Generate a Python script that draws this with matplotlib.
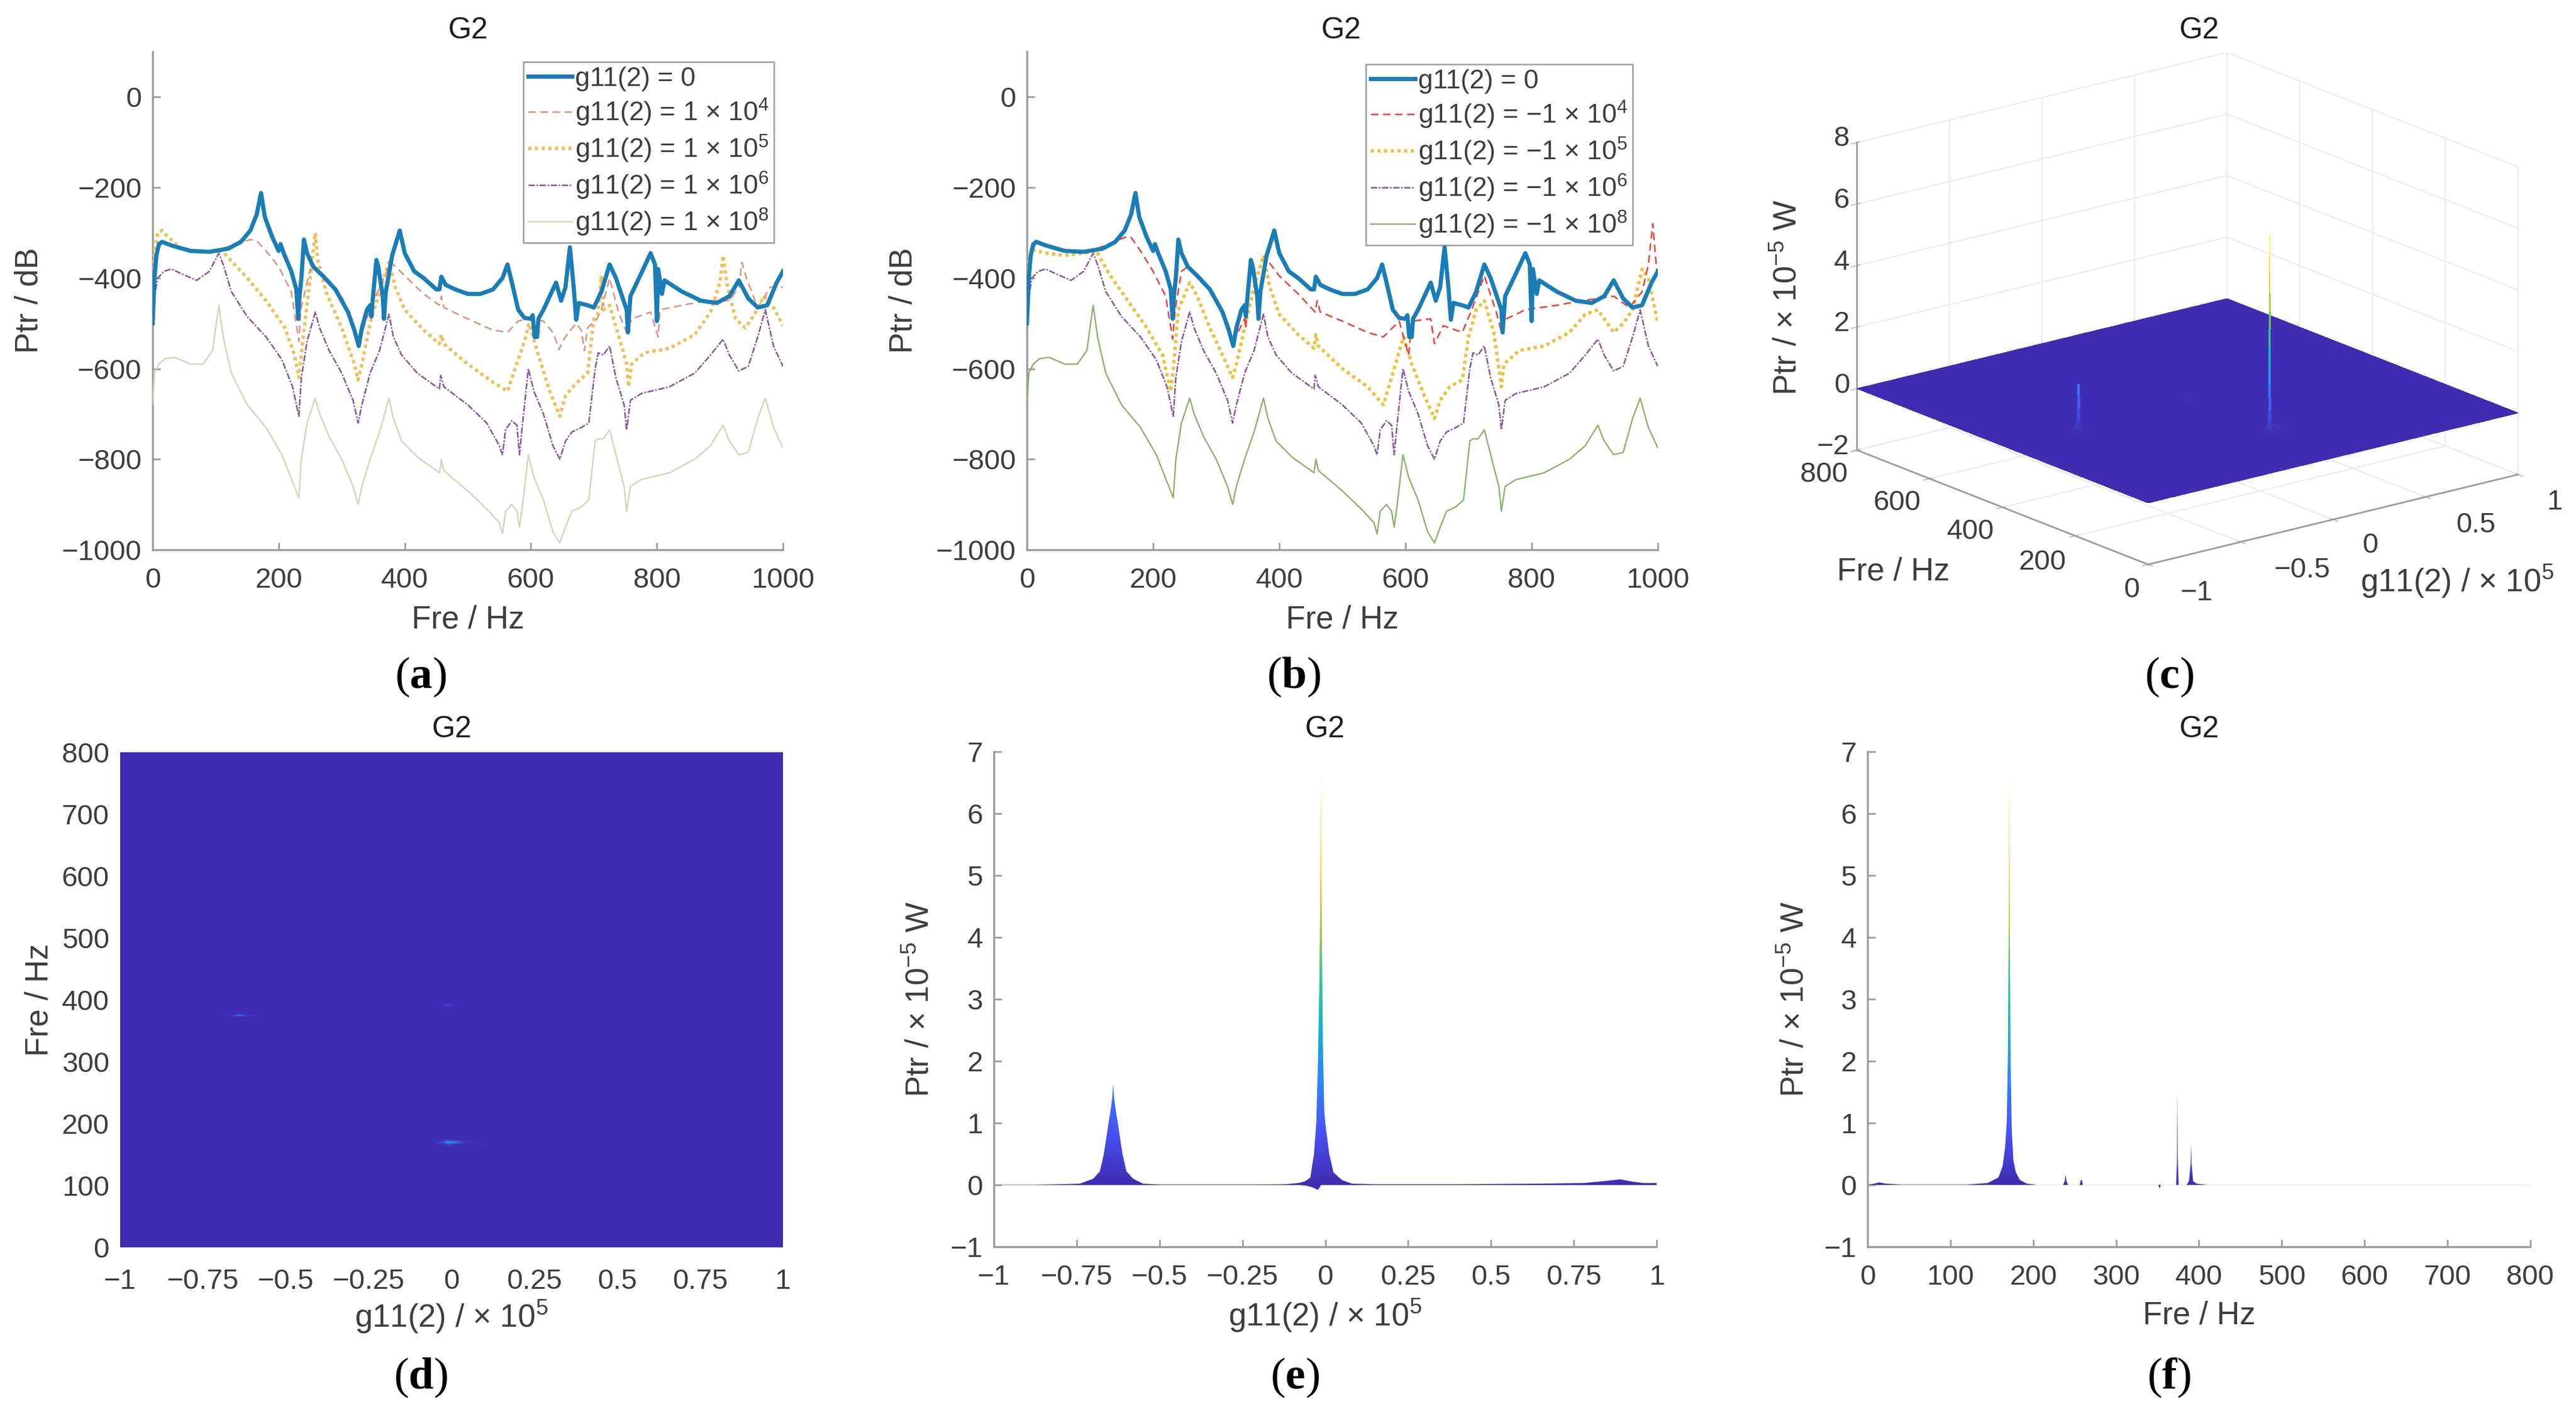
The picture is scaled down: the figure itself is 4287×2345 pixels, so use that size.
import numpy as np
import matplotlib
matplotlib.use("Agg")
import matplotlib.pyplot as plt
from matplotlib.colors import LinearSegmentedColormap
from matplotlib.patches import Polygon
from mpl_toolkits.mplot3d.art3d import Line3DCollection

W, H = 4287, 2345

plt.rcParams['font.family'] = ['Liberation Sans', 'DejaVu Sans']
plt.rcParams['mathtext.fontset'] = 'custom'
plt.rcParams['mathtext.default'] = 'regular'
plt.rcParams['mathtext.bf'] = 'Liberation Serif:bold'
plt.rcParams['grid.color'] = '#ececec'
plt.rcParams['grid.linewidth'] = 1.6

BLUE = [(0, -500), (3, -400), (6, -350), (10, -325), (15, -320), (30, -328), (60, -340), (90, -342), (120, -335),
        (140, -320), (155, -295), (165, -260), (172, -212), (178, -265), (190, -310), (200, -340), (203, -325),
        (208, -345), (220, -385), (228, -425), (231, -490), (233, -440), (236, -400), (240, -315), (245, -345),
        (255, -375), (270, -395), (290, -425), (310, -475), (320, -515), (327, -550), (332, -510), (340, -470),
        (345, -460), (347, -485), (349, -450), (355, -360), (358, -375), (365, -440), (367, -490), (370, -430),
        (380, -350), (392, -295), (400, -345), (415, -385), (430, -400), (450, -425), (455, -425), (458, -397),
        (465, -415), (480, -425), (500, -435), (520, -435), (540, -425), (555, -400), (563, -370), (570, -410),
        (580, -470), (590, -488), (600, -490), (603, -482), (606, -530), (610, -530), (612, -490), (620, -470),
        (640, -410), (648, -450), (655, -420), (662, -332), (668, -420), (672, -492), (676, -455), (690, -460),
        (700, -465), (712, -430), (725, -370), (735, -400), (752, -470), (754, -520), (758, -440), (775, -390),
        (790, -345), (797, -370), (800, -495), (802, -380), (808, -435), (812, -405), (840, -430), (870, -450),
        (895, -455), (915, -440), (930, -405), (945, -445), (960, -465), (975, -460), (990, -410), (1000, -385)]

A_RED = [(0, -500), (3, -400), (8, -340), (15, -322), (40, -335), (70, -342), (100, -340), (130, -325), (155, -315),
         (165, -318), (180, -340), (200, -375), (220, -430), (232, -540), (235, -470), (250, -380), (262, -385),
         (300, -440), (327, -540), (345, -470), (360, -420), (378, -365), (400, -395), (430, -435), (455, -460),
         (458, -440), (462, -465), (500, -490), (540, -515), (563, -520), (580, -495), (595, -490), (620, -495),
         (635, -520), (645, -558), (650, -540), (660, -520), (672, -500), (680, -515), (685, -560), (690, -510),
         (705, -490), (712, -470), (725, -400), (740, -480), (752, -520), (760, -490), (790, -475), (802, -530),
         (805, -470), (840, -460), (880, -450), (915, -450), (930, -420), (935, -365), (942, -400), (960, -465),
         (980, -420), (1000, -420)]

A_YELLOW = [(0, -500), (3, -340), (8, -300), (15, -295), (25, -310), (45, -335), (80, -342), (110, -340), (130, -370),
            (150, -400), (180, -450), (210, -510), (225, -570), (232, -620), (238, -540), (250, -400), (258, -300),
            (262, -360), (275, -430), (300, -510), (320, -590), (326, -625), (332, -590), (345, -500), (360, -430),
            (368, -395), (375, -365), (385, -420), (400, -470), (430, -515), (455, -545), (458, -525), (462, -545),
            (500, -590), (540, -630), (563, -650), (575, -600), (590, -540), (597, -500), (610, -560), (630, -650),
            (646, -705), (655, -660), (670, -635), (690, -610), (700, -490), (706, -480), (712, -395), (715, -470),
            (725, -460), (740, -530), (752, -590), (755, -640), (760, -590), (780, -565), (820, -555), (860, -525),
            (885, -475), (900, -410), (905, -350), (912, -420), (925, -490), (940, -510), (955, -480), (970, -440),
            (985, -465), (1000, -505)]

PURPLE = [(0, -500), (3, -440), (8, -400), (18, -385), (30, -380), (45, -390), (70, -405), (90, -385), (105, -345),
          (112, -370), (125, -430), (150, -485), (180, -530), (205, -580), (222, -640), (232, -705), (236, -620),
          (245, -540), (258, -475), (265, -510), (280, -560), (300, -610), (318, -670), (326, -720), (332, -680),
          (345, -610), (360, -560), (375, -480), (382, -530), (395, -570), (420, -610), (455, -645), (457, -615),
          (462, -640), (500, -680), (530, -720), (550, -770), (555, -790), (560, -735), (570, -715), (578, -725),
          (582, -790), (587, -720), (596, -600), (605, -650), (620, -700), (635, -770), (646, -800), (655, -760),
          (665, -740), (680, -730), (692, -720), (702, -600), (707, -565), (715, -570), (725, -550), (735, -620),
          (748, -680), (752, -735), (758, -670), (775, -655), (820, -640), (860, -610), (885, -570), (905, -535),
          (915, -570), (930, -605), (945, -595), (960, -530), (972, -470), (985, -550), (1000, -595)]

GREEN = [(0, -680), (3, -610), (10, -590), (20, -578), (35, -575), (60, -590), (80, -590), (95, -560), (105, -460),
         (112, -530), (125, -610), (150, -680), (180, -730), (205, -790), (222, -850), (232, -885), (236, -800),
         (245, -720), (258, -665), (265, -700), (280, -750), (300, -800), (318, -860), (326, -900), (332, -860),
         (345, -800), (360, -740), (375, -665), (382, -710), (395, -760), (420, -795), (455, -830), (458, -800),
         (462, -825), (500, -870), (530, -910), (550, -940), (555, -965), (560, -915), (570, -900), (578, -915),
         (582, -950), (587, -900), (596, -790), (605, -840), (620, -890), (635, -960), (646, -985), (655, -950),
         (665, -915), (680, -905), (692, -890), (702, -760), (707, -755), (715, -755), (725, -735), (735, -790),
         (748, -860), (752, -915), (758, -860), (775, -845), (820, -830), (860, -800), (885, -770), (905, -725),
         (915, -760), (930, -790), (945, -785), (960, -710), (972, -665), (985, -730), (1000, -775)]

B_RED = [(0, -500), (3, -400), (8, -340), (15, -322), (40, -335), (70, -342), (100, -340), (130, -325), (155, -310),
         (165, -310), (180, -340), (200, -385), (220, -440), (231, -535), (235, -470), (245, -385), (255, -375),
         (270, -395), (290, -425), (310, -475), (327, -540), (345, -490), (347, -510), (350, -420), (360, -410),
         (368, -440), (378, -355), (400, -395), (430, -435), (457, -475), (460, -450), (465, -475), (500, -495),
         (540, -520), (565, -530), (590, -495), (605, -570), (610, -495), (640, -490), (646, -545), (660, -505),
         (690, -520), (705, -470), (725, -395), (745, -480), (752, -520), (760, -490), (790, -470), (840, -460),
         (880, -450), (930, -440), (955, -465), (975, -430), (985, -370), (992, -280), (998, -380), (1000, -390)]

B_YELLOW = [(0, -500), (3, -360), (10, -338), (30, -345), (60, -350), (90, -345), (110, -340), (130, -390), (160, -450),
            (190, -510), (215, -570), (228, -650), (232, -600), (240, -470), (258, -410), (270, -440), (290, -510),
            (310, -570), (326, -620), (332, -590), (345, -510), (360, -420), (375, -350), (385, -420), (400, -480),
            (430, -525), (455, -555), (458, -525), (462, -550), (500, -600), (540, -640), (565, -680), (580, -610),
            (597, -530), (610, -590), (630, -660), (646, -710), (655, -670), (670, -640), (690, -625), (700, -530),
            (712, -470), (725, -450), (740, -520), (752, -640), (756, -590), (780, -560), (820, -550), (860, -520),
            (885, -480), (905, -470), (915, -490), (930, -520), (945, -500), (960, -470), (975, -380), (985, -400),
            (1000, -500)]

A_LABELS = ['g11(2) = 0', 'g11(2) = 1 × 10$^{4}$', 'g11(2) = 1 × 10$^{5}$', 'g11(2) = 1 × 10$^{6}$',
            'g11(2) = 1 × 10$^{8}$']
B_LABELS = ['g11(2) = 0', 'g11(2) = −1 × 10$^{4}$', 'g11(2) = −1 × 10$^{5}$', 'g11(2) = −1 × 10$^{6}$',
            'g11(2) = −1 × 10$^{8}$']

# surface Ptr over (g11, Fre), only the cells around the peaks are non zero
G_GRID = [-1, -0.70, -0.66, -0.64, -0.62, -0.58, -0.06, -0.03, -0.01, 0.01, 0.04, 0.12, 1]
FRE_GRID = [0, 163, 167, 170, 173, 177, 368, 373, 375, 377, 382, 389, 392, 395, 800]
P_GRID = [
    [0, 0, 0, 0, 0, 0, 0, 0, 0, 0, 0, 0, 0],
    [0, 0, 0, 0, 0, 0, 0, 0, 0, 0, 0, 0, 0],
    [0, 0, 0, 0, 0, 0, 0, 0.05, 0.5, 0.2, 0, 0, 0],
    [0, 0, 0, 0, 0, 0, 0.05, 0.5, 6.7, 1.8, 0.25, 0, 0],
    [0, 0, 0, 0, 0, 0, 0, 0.05, 0.5, 0.2, 0, 0, 0],
    [0, 0, 0, 0, 0, 0, 0, 0, 0, 0, 0, 0, 0],
    [0, 0, 0, 0, 0, 0, 0, 0, 0, 0, 0, 0, 0],
    [0, 0, 0, 0.1, 0, 0, 0, 0, 0, 0, 0, 0, 0],
    [0, 0.02, 0.3, 1.63, 0.4, 0.03, 0, 0, 0, 0, 0, 0, 0],
    [0, 0, 0, 0.1, 0, 0, 0, 0, 0, 0, 0, 0, 0],
    [0, 0, 0, 0, 0, 0, 0, 0, 0, 0, 0, 0, 0],
    [0, 0, 0, 0, 0, 0, 0, 0, 0, 0, 0, 0, 0],
    [0, 0, 0, 0, 0, 0, 0, 0.05, 0.68, 0.08, 0, 0, 0],
    [0, 0, 0, 0, 0, 0, 0, 0, 0, 0, 0, 0, 0],
    [0, 0, 0, 0, 0, 0, 0, 0, 0, 0, 0, 0, 0],
]

# spikes of panel c: where they stand, and the heights along them
SPIKE_G = [-0.01, -0.64]
SPIKE_FRE = [170, 375]
SPIKE_TOP = [6.5, 1.6]
SPIKE_LEVELS = [0, 0.15, 0.4, 0.8, 1.2, 1.6, 2.2, 2.8, 3.4, 4.0, 4.6, 5.2, 5.8, 6.5]
SPIKE_WIDTHS = [7, 5.5, 4.5, 3.6, 3.2, 3, 2.8, 2.6, 2.4, 2, 1.6, 1.2, 0.9]

# silhouette of panel e
E_G = [-1, -0.88, -0.80, -0.74, -0.70, -0.68, -0.668, -0.654, -0.648, -0.643, -0.64, -0.637, -0.632, -0.626, -0.612,
       -0.60, -0.58, -0.55, -0.5, -0.2, -0.12, -0.08, -0.06, -0.045, -0.034, -0.027, -0.022, -0.018, -0.016, -0.014,
       -0.013, -0.012, -0.010, -0.007, -0.003, 0.0, 0.012, 0.025, 0.05, 0.08, 0.15, 0.4, 0.65, 0.78, 0.84, 0.89, 0.93,
       0.96, 1]
E_UPPER = [0, 0, 0.01, 0.02, 0.1, 0.22, 0.5, 1.0, 1.2, 1.4, 1.63, 1.4, 1.2, 1.0, 0.5, 0.22, 0.1, 0.02, 0.005, 0.005,
           0.01, 0.03, 0.06, 0.12, 0.5, 1.0, 2.0, 3.2, 4.2, 5.6, 6.7, 5.6, 4.0, 2.2, 1.2, 1.0, 0.5, 0.2, 0.08, 0.02, 0.01,
           0.01, 0.02, 0.03, 0.06, 0.09, 0.05, 0.03, 0.03]
E_LOWER = [0, 0, 0, 0, 0, 0, 0, 0, 0, 0, 0, 0, 0, 0, 0, 0, 0, 0, 0, 0, 0, 0, -0.01, -0.03, -0.05, -0.07, -0.08, -0.05,
           -0.03, -0.01, 0, 0, 0, 0, 0, 0, 0, 0, 0, 0, 0, 0, 0, 0, 0, 0, 0, 0, 0]

# silhouette of panel f
F_FRE = [0, 8, 14, 22, 40, 120, 145, 158, 163, 166, 168, 169.5, 170.3, 171, 171.7, 172.5, 174, 176, 179, 184, 192, 205,
         236, 238, 239, 240, 242, 256, 257.5, 258.5, 260, 351, 352.5, 354, 372.5, 373.5, 374, 374.5, 375.5, 385, 388, 390,
         390.5, 391, 393, 397, 410, 800]
F_UPPER = [0, 0.02, 0.04, 0.02, 0.005, 0.005, 0.03, 0.12, 0.3, 0.6, 1.0, 2.2, 4.2, 6.7, 4.2, 2.2, 0.9, 0.4, 0.2, 0.08,
           0.02, 0, 0, 0.06, 0.17, 0.06, 0, 0, 0.08, 0.08, 0, 0, 0, 0, 0, 0.4, 1.55, 0.4, 0, 0, 0.06, 0.35, 0.68, 0.35, 0.06,
           0.02, 0, 0]
F_LOWER = [0, 0, 0, 0, 0, 0, 0, 0, 0, 0, 0, 0, 0, 0, 0, 0, 0, 0, 0, 0, 0, 0, 0, 0, 0, 0, 0, 0, 0, 0, 0, 0, -0.06, 0, 0, 0,
           0, 0, 0, 0, 0, 0, 0, 0, 0, 0, 0, 0]

G_TICKS = [-1, -0.75, -0.5, -0.25, 0, 0.25, 0.5, 0.75, 1]
G_TICK_LABELS = ['−1', '−0.75', '−0.5', '−0.25', '0', '0.25', '0.5', '0.75', '1']

C_G_LABELS = ['−1', '−0.5', '0', '0.5', '1']
C_FRE_LABELS = ['0', '200', '400', '600', '800']
C_P_LABELS = ['−2', '0', '2', '4', '6', '8']

parula = LinearSegmentedColormap.from_list('parula', [
    (0.2484, 0.1720, 0.6900), (0.2810, 0.3228, 0.9579), (0.1786, 0.5289, 0.9682), (0.0689, 0.6948, 0.8394),
    (0.2161, 0.7843, 0.5923), (0.6720, 0.7793, 0.2227), (0.9970, 0.7659, 0.2199), (0.9598, 0.8870, 0.1), (0.9769, 0.9839, 0.0805)])

AXIS_COL = '#9c9c9c'
TICK_TXT = '#3d3d3d'
TITLE_TXT = '#1e1e1e'
TICK_FS = 34
LABEL_FS = 38
TITLE_FS = 36

fig = plt.figure(figsize=(W / 100, H / 100), dpi=100, facecolor='white')


def add_panel(x0, x1, top, bottom):
    return fig.add_axes([x0 / W, 1 - bottom / H, (x1 - x0) / W, (bottom - top) / H])


def style_panel(ax, x_center_y, y_center_x, xlabel, ylabel, box):
    x0, x1, top, bottom = box
    for side in ['top', 'right']:
        ax.spines[side].set_visible(False)
    for side in ['left', 'bottom']:
        ax.spines[side].set_color(AXIS_COL)
        ax.spines[side].set_linewidth(2.4)
    ax.tick_params(axis='x', direction='in', length=9, width=2, color=AXIS_COL, labelsize=TICK_FS,
                   labelcolor=TICK_TXT, pad=21)
    ax.tick_params(axis='y', direction='in', length=9, width=2, color=AXIS_COL, labelsize=TICK_FS,
                   labelcolor=TICK_TXT, pad=13)
    ax.set_xlabel(xlabel, fontsize=LABEL_FS, color=TICK_TXT, va='center')
    ax.xaxis.set_label_coords(0.5, -(x_center_y - bottom) / (bottom - top))
    ax.set_ylabel(ylabel, fontsize=LABEL_FS, color=TICK_TXT, va='center')
    ax.yaxis.set_label_coords(-(x0 - y_center_x) / (x1 - x0), 0.5)


def panel_title(x, y):
    fig.text(x / W, 1 - y / H, 'G2', fontsize=TITLE_FS, color=TITLE_TXT, ha='center', va='center')


def panel_letter(x, y, letter):
    fig.text(x / W, 1 - y / H, '($\\mathbf{' + letter + '}$)', fontsize=54, color='black', ha='center', va='center',
             family='Liberation Serif')


def draw_lines(ax, series, colors, labels, legend_box):
    styles = [('-', 5.0), ((0, (5, 3)), 1.8), ((0, (1, 1.0)), 4.0), ((0, (4, 1, 1, 1)), 1.9), ('-', 1.7)]
    handles = [None] * 5
    for i in [4, 3, 2, 1, 0]:
        data = np.array(series[i]).T
        handles[i], = ax.plot(data[0], data[1], color=colors[i], linestyle=styles[i][0], linewidth=styles[i][1],
                              zorder=3 + (4 - i) * 0.1 + (1 if i == 0 else 0))
    ax.set_xlim(0, 1000)
    ax.set_ylim(-1000, 100)
    ax.set_xticks([0, 200, 400, 600, 800, 1000])
    ax.set_yticks([-1000, -800, -600, -400, -200, 0])
    ax.set_yticklabels(['−1000', '−800', '−600', '−400', '−200', '0'])
    leg = ax.legend(handles, labels, loc='upper right', bbox_to_anchor=legend_box, borderaxespad=0, fontsize=32,
                    labelcolor=TICK_TXT, frameon=True, fancybox=False, framealpha=1, edgecolor=AXIS_COL,
                    handlelength=1.65, handletextpad=0.12, labelspacing=0.2, borderpad=0.18)
    leg.get_frame().set_linewidth(1.8)
    leg.set_zorder(2)


def ramp_fill(ax, xs, upper, lower, xlim, ylim, vmax, zero_col):
    # vertical parula ramp cut by the silhouette
    ramp = np.linspace(ylim[1], ylim[0], 800).reshape(-1, 1)
    im = ax.imshow(ramp, extent=[xlim[0], xlim[1], ylim[0], ylim[1]], aspect='auto', cmap=parula, vmin=0, vmax=vmax,
                   interpolation='bilinear', zorder=2)
    outline = np.column_stack([np.r_[xs, xs[::-1]], np.r_[upper, lower[::-1]]])
    patch = Polygon(outline, closed=True, transform=ax.transData, facecolor='none', edgecolor='none')
    ax.add_patch(patch)
    im.set_clip_path(patch)
    ax.plot(xlim, [0, 0], color=zero_col, linewidth=1.2, zorder=1)
    ax.set_xlim(xlim)
    ax.set_ylim(ylim)


# a
box_a = (254, 1303, 86, 915)
ax_a = add_panel(*box_a)
draw_lines(ax_a, [BLUE, A_RED, A_YELLOW, PURPLE, GREEN], ['#1a7db5', '#e0907a', '#efc05c', '#8a5a9a', '#cfd6bd'],
           A_LABELS, (0.986, 0.98))
style_panel(ax_a, 1032, 49, 'Fre / Hz', 'Ptr / dB', box_a)
panel_title(779, 51)
panel_letter(700, 1127, 'a')

# b
box_b = (1709, 2759, 86, 915)
ax_b = add_panel(*box_b)
draw_lines(ax_b, [BLUE, B_RED, B_YELLOW, PURPLE, GREEN], ['#1a7db5', '#e8403a', '#efc040', '#8a5a9a', '#8fb06a'],
           B_LABELS, (0.96, 0.975))
style_panel(ax_b, 1032, 1504, 'Fre / Hz', 'Ptr / dB', box_b)
panel_title(2232, 51)
panel_letter(2153, 1127, 'b')

# c
S = 1300
cx, cy = 3623, 531
ax_c = fig.add_axes([(cx - S / 2) / W, 1 - (cy + S / 2) / H, S / W, S / H], projection='3d', computed_zorder=False)
ax_c.patch.set_alpha(0)
ax_c.set_proj_type('ortho')
ax_c.view_init(elev=18, azim=-128.2)
ax_c.set_box_aspect((1, 1, 0.687), zoom=0.92)
gg, ff = np.meshgrid(G_GRID, FRE_GRID)
ax_c.plot_surface(gg, ff, np.minimum(np.array(P_GRID), 0.3), rstride=1, cstride=1, cmap=parula, vmin=0, vmax=6.7,
                  linewidth=0, antialiased=False, shade=False, zorder=2)
levels = np.array(SPIKE_LEVELS)
for g_pos, fre_pos, top in zip(SPIKE_G, SPIKE_FRE, SPIKE_TOP):
    kept = levels[levels <= top]
    pts = [[(g_pos, fre_pos, a), (g_pos, fre_pos, b)] for a, b in zip(kept[:-1], kept[1:])]
    cols = [parula((a + b) / 2 / 6.7) for a, b in zip(kept[:-1], kept[1:])]
    ax_c.add_collection3d(Line3DCollection(pts, colors=cols, linewidths=SPIKE_WIDTHS[:len(pts)], zorder=3))
ax_c.set_xlim(-1, 1)
ax_c.set_ylim(0, 800)
ax_c.set_zlim(-2, 8)
ax_c.set_xticks([-1, -0.5, 0, 0.5, 1])
ax_c.set_xticklabels([''] * 5)
ax_c.set_yticks([0, 200, 400, 600, 800])
ax_c.set_yticklabels([''] * 5)
ax_c.set_zticks([-2, 0, 2, 4, 6, 8])
ax_c.set_zticklabels([''] * 6)
for axis in [ax_c.xaxis, ax_c.yaxis, ax_c.zaxis]:
    axis.set_pane_color((1, 1, 1, 0))
    axis.pane.set_edgecolor((1, 1, 1, 0))
    axis.line.set_color(AXIS_COL)
    axis.line.set_linewidth(2)
ax_c.tick_params(color=AXIS_COL)
# tick labels of the box sit off the edges, placed on the figure
for label, px, py in zip(C_G_LABELS, [3656, 3832, 3944, 4120, 4251], [987, 949, 908, 874, 836]):
    fig.text(px / W, 1 - py / H, label, fontsize=TICK_FS, color=TICK_TXT, ha='center', va='center')
for label, px, py in zip(C_FRE_LABELS, [3547, 3399, 3279, 3157, 3035], [982, 936, 885, 837, 790]):
    fig.text(px / W, 1 - py / H, label, fontsize=TICK_FS, color=TICK_TXT, ha='center', va='center')
for label, py in zip(C_P_LABELS, [744, 642, 539, 437, 334, 231]):
    fig.text(3078 / W, 1 - py / H, label, fontsize=TICK_FS, color=TICK_TXT, ha='right', va='center')
fig.text(3151 / W, 1 - 952 / H, 'Fre / Hz', fontsize=LABEL_FS, color=TICK_TXT, ha='center', va='center')
fig.text(4089 / W, 1 - 968 / H, 'g11(2) / × 10$^{5}$', fontsize=LABEL_FS, color=TICK_TXT, ha='center', va='center')
fig.text(2975 / W, 1 - 495 / H, 'Ptr / × 10$^{−5}$ W', fontsize=LABEL_FS, color=TICK_TXT, ha='center', va='center',
         rotation=90)
panel_title(3660, 51)
panel_letter(3610, 1127, 'c')

# d
box_d = (200, 1303, 1252, 2076)
ax_d = add_panel(*box_d)
ax_d.pcolormesh(gg, ff, np.minimum(np.array(P_GRID), 2.5), cmap=parula, vmin=0, vmax=6.7, shading='gouraud',
                rasterized=True)
ax_d.set_xlim(-1, 1)
ax_d.set_ylim(0, 800)
ax_d.set_xticks(G_TICKS)
ax_d.set_xticklabels(G_TICK_LABELS)
ax_d.set_yticks(np.arange(0, 801, 100))
style_panel(ax_d, 2192, 65, 'g11(2) / × 10$^{5}$', 'Fre / Hz', box_d)
ax_d.spines['left'].set_visible(False)
ax_d.spines['bottom'].set_visible(False)
ax_d.tick_params(length=0)
ax_d.tick_params(axis='x', pad=25)
panel_title(752, 1214)
panel_letter(700, 2293, 'd')

# e
box_e = (1654, 2757, 1251, 2075)
ax_e = add_panel(*box_e)
ramp_fill(ax_e, np.array(E_G), np.array(E_UPPER), np.array(E_LOWER), (-1, 1), (-1, 7), 6.7, '#b4b4c6')
ax_e.set_xticks(G_TICKS)
ax_e.set_xticklabels(G_TICK_LABELS)
ax_e.set_yticks(np.arange(-1, 8))
ax_e.set_yticklabels(['−1', '0', '1', '2', '3', '4', '5', '6', '7'])
style_panel(ax_e, 2190, 1531, 'g11(2) / × 10$^{5}$', 'Ptr / × 10$^{−5}$ W', box_e)
panel_title(2205, 1214)
panel_letter(2155, 2293, 'e')

# f
box_f = (3108, 4211, 1251, 2075)
ax_f = add_panel(*box_f)
ramp_fill(ax_f, np.array(F_FRE), np.array(F_UPPER), np.array(F_LOWER), (0, 800), (-1, 7), 6.7, '#eeeef4')
ax_f.set_xticks(np.arange(0, 801, 100))
ax_f.set_yticks(np.arange(-1, 8))
ax_f.set_yticklabels(['−1', '0', '1', '2', '3', '4', '5', '6', '7'])
style_panel(ax_f, 2190, 2987, 'Fre / Hz', 'Ptr / × 10$^{−5}$ W', box_f)
panel_title(3660, 1214)
panel_letter(3610, 2293, 'f')

fig.savefig('out.png', dpi=100, facecolor='white')
